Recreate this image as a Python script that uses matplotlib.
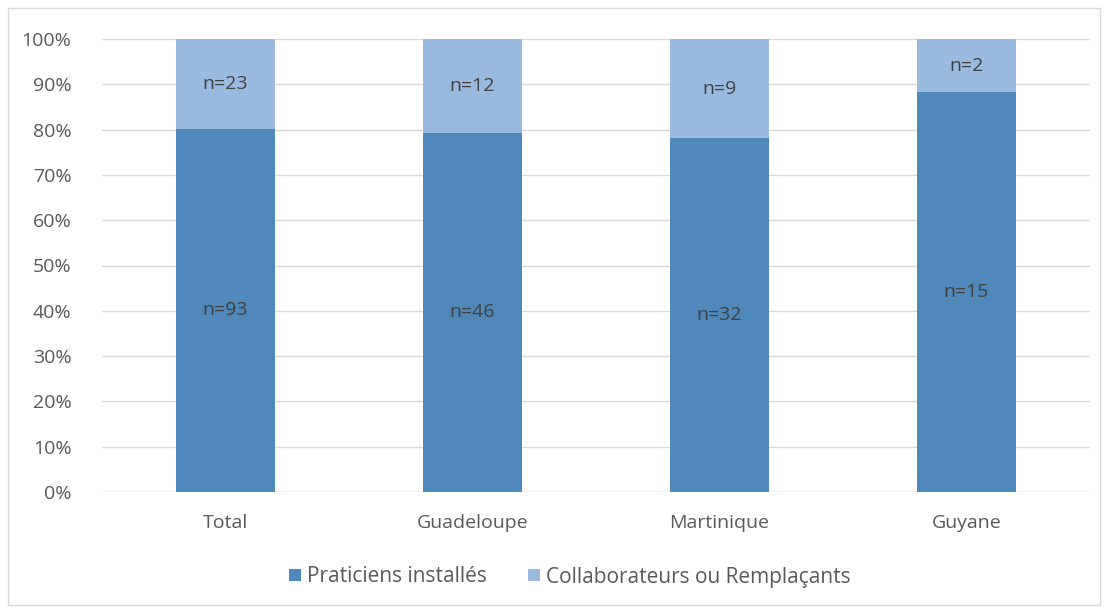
import numpy as np
import matplotlib.pyplot as plt
from matplotlib.patches import Rectangle

categories = ["Total", "Guadeloupe", "Martinique", "Guyane"]
installes = [93, 46, 32, 15]
collab = [23, 12, 9, 2]
series_names = ["Praticiens installés", "Collaborateurs ou Remplaçants"]

dark = "#4F88BB"
light = "#9BBAE0"
txt = "#595959"
fs = 14

plt.rcParams['font.family'] = ['Open Sans', 'DejaVu Sans']

inst = np.array(installes, dtype=float)
col = np.array(collab, dtype=float)
tot = inst + col
p_inst = inst / tot
p_col = col / tot

fig = plt.figure(figsize=(11.08, 6.12), dpi=100)
ax = fig.add_axes([102 / 1108, 1 - 492 / 612, 988 / 1108, 453 / 612])

x = np.arange(len(categories))
b1 = ax.bar(x, p_inst, width=0.4, color=dark, label=series_names[0], zorder=3)
b2 = ax.bar(x, p_col, width=0.4, bottom=p_inst, color=light, label=series_names[1], zorder=3)

for i in range(len(categories)):
    ax.text(x[i], p_inst[i] / 2, "n=%d" % installes[i], ha='center', va='center',
            fontsize=fs, color="#404040", zorder=4)
    ax.text(x[i], p_inst[i] + p_col[i] / 2, "n=%d" % collab[i], ha='center', va='center',
            fontsize=fs, color="#404040", zorder=4)

ax.set_xlim(-0.5, len(categories) - 0.5)
ax.set_ylim(0, 1)
ax.set_yticks(np.arange(0, 1.01, 0.1))
ax.set_yticklabels(["%d%%" % round(v * 100) for v in np.arange(0, 1.01, 0.1)])
ax.set_xticks(x)
ax.set_xticklabels(categories)
ax.tick_params(axis='both', length=0, labelsize=fs, colors=txt)
ax.tick_params(axis='y', pad=22)
ax.tick_params(axis='x', pad=16)
ax.grid(axis='y', color="#D9D9D9", linewidth=1, zorder=0)
for s in ax.spines.values():
    s.set_visible(False)
ax.axhline(0, color="#D9D9D9", linewidth=1, zorder=1)

leg = fig.legend(handles=[b1, b2], loc='center', bbox_to_anchor=(570 / 1108, 1 - 577 / 612),
                 ncol=2, frameon=False, fontsize=15, handlelength=0.55, handleheight=0.55,
                 columnspacing=2.0, handletextpad=0.3)
for t in leg.get_texts():
    t.set_color(txt)

fig.patches.append(Rectangle((8 / 1108, 1 - 605 / 612), 1092 / 1108, 597 / 612,
                             transform=fig.transFigure, fill=False, edgecolor="#D9D9D9",
                             linewidth=1))

fig.savefig("out.png", dpi=100)
